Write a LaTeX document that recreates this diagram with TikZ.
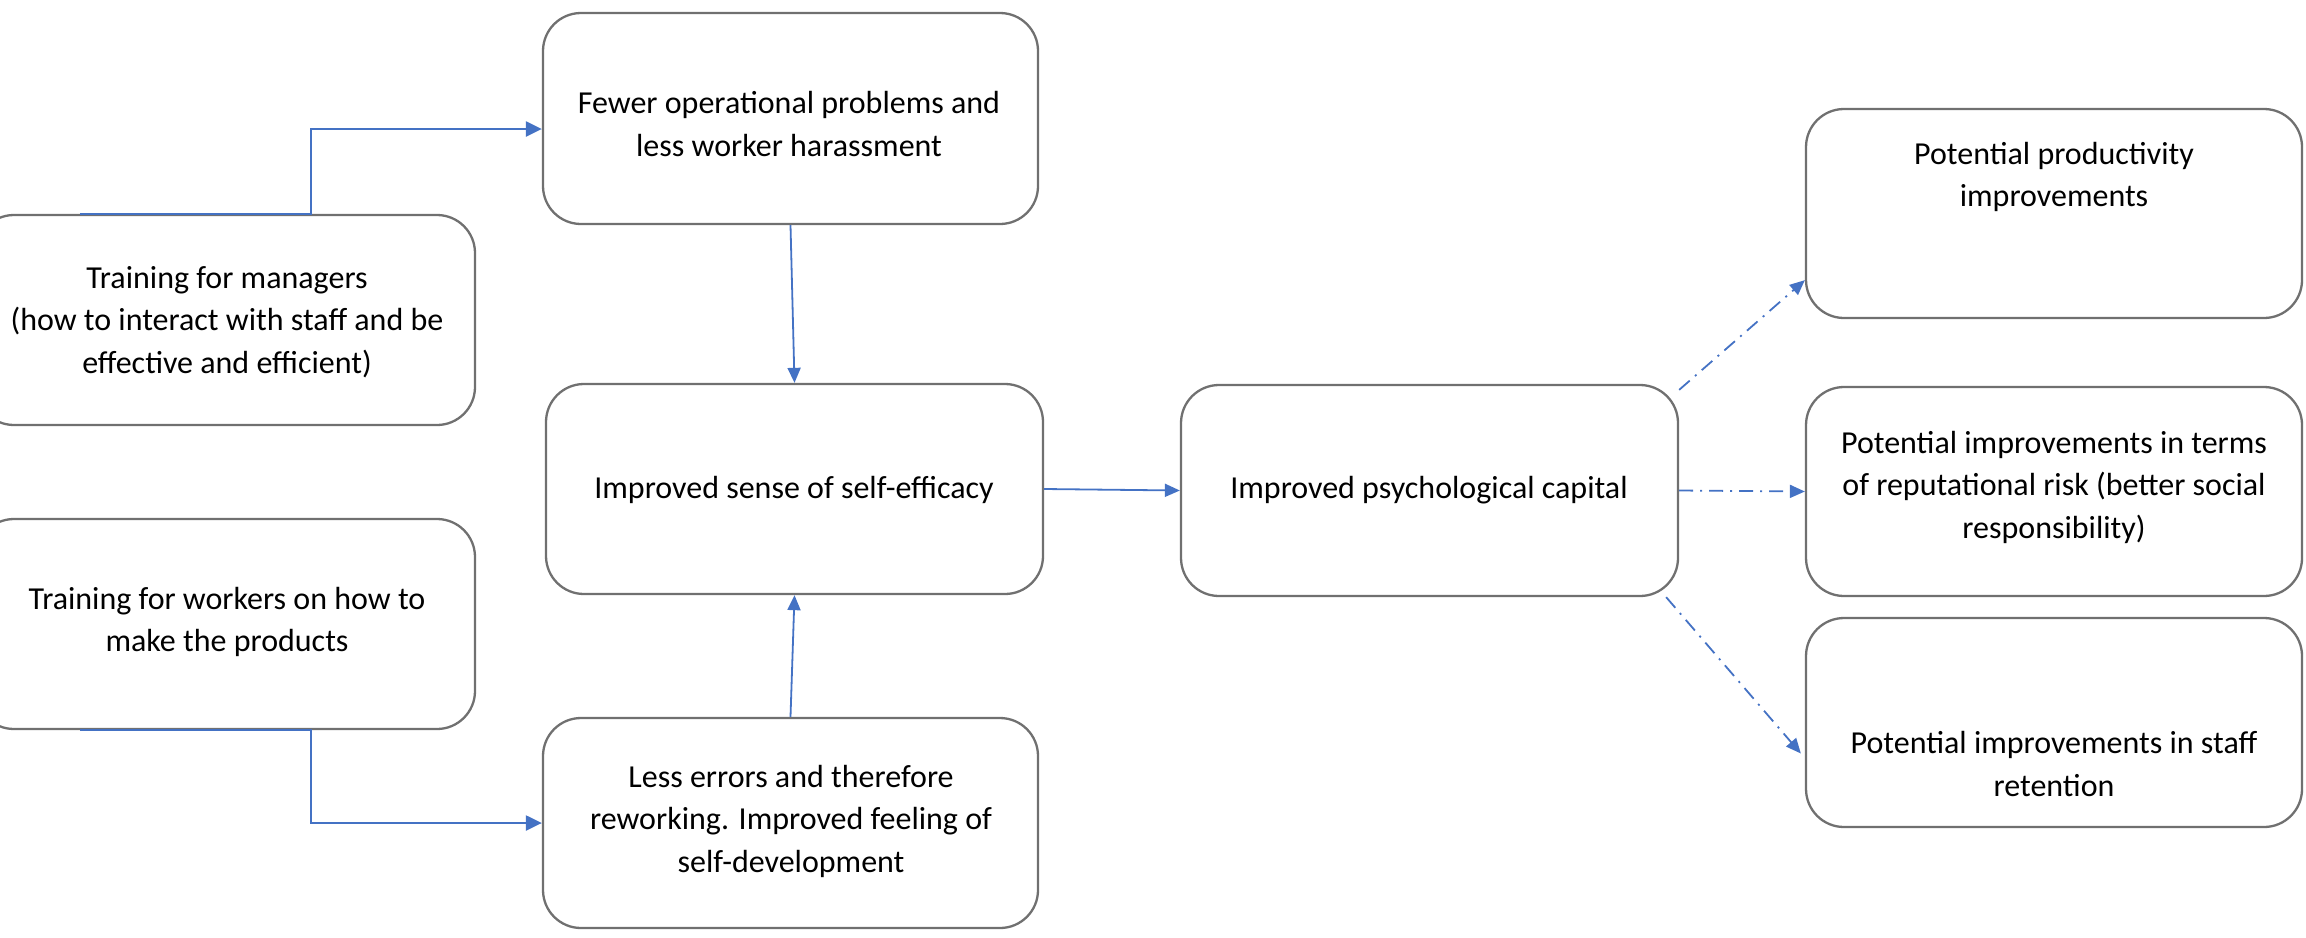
\documentclass[tikz,border=0pt]{standalone}
\usepackage{fontspec}
\setmainfont{Carlito}
\usetikzlibrary{arrows.meta}
\definecolor{bordergray}{HTML}{707070}
\definecolor{linkblue}{HTML}{4472C4}
\tikzset{
  box/.style={draw=bordergray, line width=2.3pt, rounded corners=38pt, fill=white, inner sep=0pt},
  txt/.style={align=center, inner sep=0pt, font=\fontsize{32pt}{42.5pt}\selectfont},
  conn/.style={draw=linkblue, line width=2.3pt, -{Triangle[length=16pt,width=15pt]}},
  thinconn/.style={draw=linkblue, line width=1.8pt, -{Triangle[length=15pt,width=13pt]}},
  dconn/.style={draw=linkblue, line width=1.8pt, dash pattern=on 14pt off 7pt on 2pt off 7pt, -{Triangle[length=15pt,width=13pt]}}
}
\begin{document}
\begin{tikzpicture}[x=1pt,y=-1pt]
\useasboundingbox (0,0) rectangle (2306,937);
% boxes
\node[box, minimum width=495pt, minimum height=211pt] (A) at (790.5,118.5) {};
\node[box, minimum width=499pt, minimum height=210pt] (B) at (225.5,320) {};
\node[box, minimum width=497pt, minimum height=210pt] (C) at (794.5,489) {};
\node[box, minimum width=499pt, minimum height=210pt] (D) at (225.5,624) {};
\node[box, minimum width=495pt, minimum height=210pt] (E) at (790.5,823) {};
\node[box, minimum width=497pt, minimum height=211pt] (F) at (1429.5,490.5) {};
\node[box, minimum width=496pt, minimum height=209pt] (G) at (2054,213.5) {};
\node[box, minimum width=496pt, minimum height=209pt] (H) at (2054,491.5) {};
\node[box, minimum width=496pt, minimum height=209pt] (I) at (2054,722.5) {};
% texts
\node[txt] (tA) at (789,124) {Fewer operational problems and\\less worker harassment};
\node[txt] (tB) at (227,322) {Training for managers\\(how to interact with staff and be\\effective and efficient)};
\node[txt] (tC) at (794,490) {Improved sense of self-efficacy};
\node[txt] (tD) at (227,622) {Training for workers on how to\\make the products};
\node[txt] (tE) at (791,821) {Less errors and therefore\\reworking. Improved feeling of\\self-development};
\node[txt] (tF) at (1429,490) {Improved psychological capital};
\node[txt] (tG) at (2054,177) {Potential productivity\\improvements};
\node[txt] (tH) at (2054,487) {Potential improvements in terms\\of reputational risk (better social\\responsibility)};
\node[txt] (tI) at (2054,764) {Potential improvements in staff\\retention};
% connectors
\draw[conn] ([xshift=105pt]B.north west) -| ([xshift=-231pt,yshift=-10.5pt]A.west) -- ([yshift=-10.5pt]A.west);
\draw[conn] ([xshift=105pt]D.south west) -| ([xshift=-231pt]E.west) -- (E.west);
\draw[thinconn] (A.south) -- (C.north);
\draw[thinconn] (E.north) -- (C.south);
\draw[thinconn] (C.east) -- (F.west);
\draw[dconn] ([yshift=-6pt]F.north east) -- ([yshift=39pt]G.south west);
\draw[dconn] (F.east) -- (H.west);
\draw[dconn] ([xshift=-13pt]F.south east) -- ([xshift=-4pt,yshift=-31pt]I.west);
\end{tikzpicture}
\end{document}
